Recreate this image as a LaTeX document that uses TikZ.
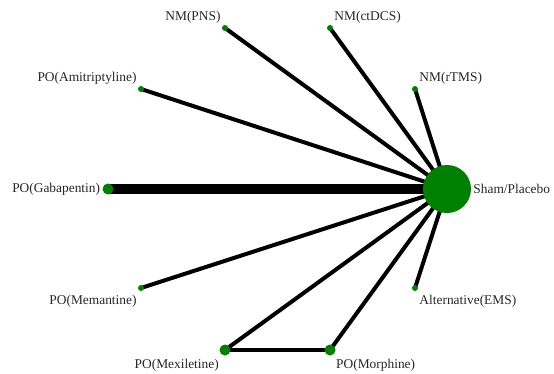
\documentclass[tikz,border=0pt]{standalone}
\usepackage{fontspec}
\setmainfont{Liberation Serif}
\usetikzlibrary{backgrounds}
\definecolor{nodegreen}{HTML}{008000}
\begin{document}
\begin{tikzpicture}[x=1pt, y=-1pt,
		trt/.style = {circle, fill = nodegreen, inner sep = 0pt, minimum size = #1},
		trt/.default = 6pt,
		lab/.style = {font = \fontsize{13.4}{15}\selectfont, text = black!85, inner sep = 2pt},
		low/.style = {lab, yshift = -3pt},
		link/.style = {line width = 4pt}]
		\useasboundingbox (0,0) rectangle (554,373);
		\node [trt = 48pt] (sham) at (447,189) {};
		\node [trt] (pns) at (225,28) {};
		\node [trt] (ctdcs) at (330,28) {};
		\node [trt] (rtms) at (415,89) {};
		\node [trt] (amit) at (141,89) {};
		\node [trt = 11pt] (gaba) at (108,189) {};
		\node [trt] (mema) at (141,288) {};
		\node [trt] (ems) at (415,288) {};
		\node [trt = 11pt] (mexi) at (225,350) {};
		\node [trt = 11pt] (morph) at (330,350) {};
		% labels
		\node [lab, anchor = south east] at (pns.north west) {NM(PNS)};
		\node [lab, anchor = south west] at (ctdcs.north east) {NM(ctDCS)};
		\node [lab, anchor = south west] at (rtms.north east) {NM(rTMS)};
		\node [lab, anchor = south east] at (amit.north west) {PO(Amitriptyline)};
		\node [lab, anchor = east] at (gaba.west) {PO(Gabapentin)};
		\node [lab, anchor = west] at (sham.east) {Sham/Placebo};
		\node [low, anchor = north east] at (mema.south west) {PO(Memantine)};
		\node [low, anchor = north west] at (ems.south east) {Alternative(EMS)};
		\node [low, anchor = north east] at (mexi.south west) {PO(Mexiletine)};
		\node [low, anchor = north west] at (morph.south east) {PO(Morphine)};
		\begin{pgfonlayer}{background}
			\foreach \t in {pns, ctdcs, rtms, amit, mema, ems, mexi, morph}
				\draw [link] (sham.center) -- (\t.center);
			\draw [line width = 10pt] (sham.center) -- (gaba.center);
			\draw [link] (mexi.center) -- (morph.center);
		\end{pgfonlayer}
	\end{tikzpicture}
\end{document}
